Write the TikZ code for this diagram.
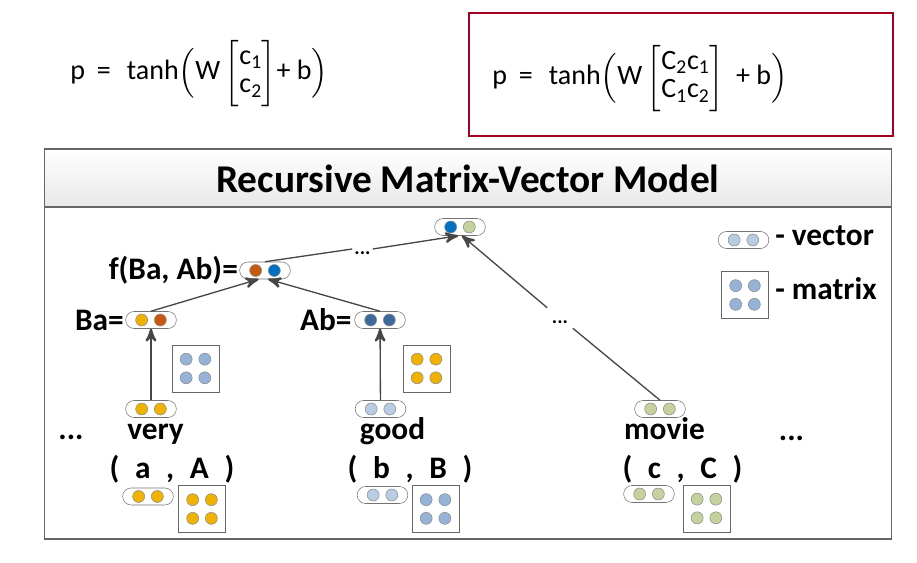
\documentclass[tikz,border=0pt]{standalone}
\usepackage{amsmath}
\usepackage{fontspec}
\setmainfont{Carlito}
\usepackage{tikz}
\usetikzlibrary{arrows}
\usetikzlibrary{decorations.markings}
\usetikzlibrary{positioning}
\definecolor{cYel}{RGB}{240,178,0}
\definecolor{cOra}{RGB}{197,90,17}
\definecolor{cBlu}{RGB}{0,112,192}
\definecolor{cGrn}{RGB}{198,210,158}
\definecolor{cSte}{RGB}{62,106,156}
\definecolor{cLbl}{RGB}{184,204,228}
\definecolor{cMbl}{RGB}{149,179,215}
\definecolor{cRed}{RGB}{165,0,33}
\newcommand{\lblfont}{\fontsize{23.5}{28}\selectfont\bfseries}
\newcommand{\ttlfont}{\fontsize{29.5}{34}\selectfont\bfseries}
\newcommand{\eqfont}{\fontsize{21}{25}\selectfont}
\tikzset{->/.style = {decoration={markings,
                                  mark=at position 1 with {\arrow[scale=1.7]{stealth'}}},
                      postaction={decorate}}}
\tikzset{conn/.style = {color=black!72, line width=1pt},
         vecpill/.style 2 args = {draw=black!55, rounded corners=6.3pt, minimum width=38pt,
                                  minimum height=12.75pt, inner sep=0pt,
                                  path picture={
                                    \draw[black!45, fill=#1] ([xshift=-7pt]path picture bounding box.center) circle (4.5pt);
                                    \draw[black!45, fill=#2] ([xshift=7pt]path picture bounding box.center) circle (4.5pt);}},
         matbox/.style = {draw=black!60, minimum size=35pt, inner sep=0pt,
                          path picture={
                            \foreach \dx in {-7pt,7pt}
                              \foreach \dy in {-7pt,7pt}
                                \draw[black!45, fill=#1] ([shift={(\dx,\dy)}]path picture bounding box.center) circle (4.5pt);}},
         gapdots/.style = {font=\fontsize{15}{18}\selectfont\bfseries, text height=8pt, text depth=0pt}}

\begin{document}
\begin{tikzpicture}[x=0.75pt, y=-0.75pt]
      \useasboundingbox (0,0) rectangle (917,563);
      % formulas
      \node (eqL) [anchor=base west, inner sep=0pt] at (70,80)
        {\eqfont p\hspace{9pt}=\hspace{12pt}tanh$\Big($W\,$\def\arraystretch{0.85}\left[\begin{array}{@{}l@{}}\text{c}_{\text{1}}\\ \text{c}_{\text{2}}\end{array}\right]$+ b$\Big)$};
      \node (eqbox) [draw=cRed, line width=1.5pt, minimum width=318pt, minimum height=92pt] at (681,74.5) {};
      \node (eqR) [anchor=base west, inner sep=0pt] at (492,85)
        {\eqfont p\hspace{9pt}=\hspace{12pt}tanh$\Big($W\,$\def\arraystretch{0.85}\left[\begin{array}{@{}l@{}}\text{C}_{\text{2}}\text{c}_{\text{1}}\\ \text{C}_{\text{1}}\text{c}_{\text{2}}\end{array}\right]$\hspace{9pt}+ b$\Big)$};
      % panel
      \shade[top color=white, bottom color=black!9] (44.7,149) rectangle (891.7,207);
      \draw[black!60, line width=1pt] (44.7,149) rectangle (891.7,539);
      \draw[black!60, line width=1pt] (44.7,207) -- (891.7,207);
      \node (title) at (468,179) {\ttlfont Recursive Matrix-Vector Model};
      % tree
      \node (top) [vecpill={cBlu}{cGrn}] at (460,227) {};
      \node (fab) [vecpill={cOra}{cBlu}] at (265,270.5) {};
      \node (fablbl) [anchor=east, inner sep=1pt] at (fab.west) {\lblfont f(Ba, Ab)=};
      \node (ba) [vecpill={cYel}{cOra}] at (151,320) {};
      \node (balbl) [anchor=east, inner sep=1pt] at (ba.west) {\lblfont Ba=};
      \node (ab) [vecpill={cSte}{cSte}] at (380,320) {};
      \node (ablbl) [anchor=east, inner sep=2pt] at (ab.west) {\lblfont Ab=};
      \node (mba) [matbox=cMbl] at (195.5,368.5) {};
      \node (mab) [matbox=cYel] at (426.5,368.5) {};
      \node (d1) [gapdots, inner xsep=1.5pt, inner ysep=1pt] at (362.5,249) {...};
      \node (d2) [gapdots, inner xsep=3.4pt, inner ysep=3.5pt] at (560,318) {...};
      % words
      \node (vvery) [vecpill={cYel}{cYel}] at (151,409) {};
      \node (vgood) [vecpill={cLbl}{cLbl}] at (380.5,409) {};
      \node (vmovie) [vecpill={cGrn}{cGrn}] at (660,409) {};
      \node (ldots) [anchor=base] at (71,439) {\lblfont ...};
      \node (wvery) [anchor=base] at (155.5,439) {\lblfont very};
      \node (wgood) [anchor=base] at (392.5,439) {\lblfont good};
      \node (wmovie) [anchor=base] at (664.5,439) {\lblfont movie};
      \node (rdots) [anchor=base] at (791.5,440) {\lblfont ...};
      \node (pa) [anchor=base] at (172,478) {\lblfont (\enspace a\enspace,\enspace A\enspace)};
      \node (pb) [anchor=base] at (410,478) {\lblfont (\enspace b\enspace,\enspace B\enspace)};
      \node (pc) [anchor=base] at (682.5,478) {\lblfont (\enspace c\enspace,\enspace C\enspace)};
      \node (va) [vecpill={cYel}{cYel}] at (148,496.5) {};
      \node (vb) [vecpill={cLbl}{cLbl}] at (382.5,495) {};
      \node (vc) [vecpill={cGrn}{cGrn}] at (649,494) {};
      \node (ma) [matbox=cYel] at (202,509) {};
      \node (mb) [matbox=cMbl] at (435.5,509) {};
      \node (mc) [matbox=cGrn] at (706.5,508.5) {};
      % legend
      \node (lvec) [vecpill={cLbl}{cLbl}] at (743.5,240) {};
      \node (lvectxt) [anchor=base west, inner sep=0pt] at (775,245) {\lblfont - vector};
      \node (lmat) [matbox=cMbl] at (745,295) {};
      \node (lmattxt) [anchor=base west, inner sep=0pt] at (775,299) {\lblfont - matrix};
      % connectors
      \draw [conn, ->] (vvery) -- (ba);
      \draw [conn, ->] (vgood) -- (ab);
      \draw [conn, ->] (ba.north) -- ([xshift=-5pt]fab.south);
      \draw [conn, ->] (ab.north) -- ([xshift=2.5pt]fab.south);
      \draw [conn] (fab.north) -- (d1.west);
      \draw [conn, ->] (d1.east) -- ([xshift=-1.5pt]top.south);
      \draw [conn] (vmovie.north) -- (d2.south east);
      \draw [conn, ->] (d2.north west) -- ([xshift=1.5pt]top.south);
    \end{tikzpicture}
\end{document}
